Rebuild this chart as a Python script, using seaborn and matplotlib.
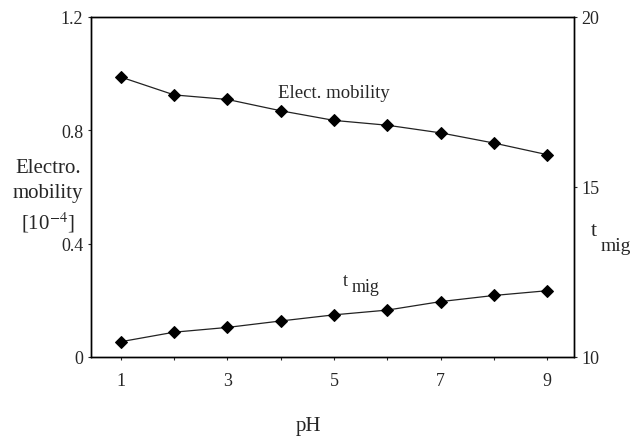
import matplotlib
matplotlib.use("Agg")
import matplotlib.pyplot as plt
import seaborn as sns
import pandas as pd

ph = [1, 2, 3, 4, 5, 6, 7, 8, 9]
elect_mobility = [0.988, 0.925, 0.909, 0.869, 0.835, 0.818, 0.791, 0.755, 0.714]
t_mig = [10.45, 10.73, 10.87, 11.06, 11.24, 11.38, 11.63, 11.81, 11.95]
x_tick_labels = ["1", "", "3", "", "5", "", "7", "", "9"]
left_ticks = [0, 0.4, 0.8, 1.2]
left_tick_labels = ["0", "0.4", "0.8", "1.2"]
right_ticks = [10, 15, 20]

sns.set_style("ticks")
plt.rcParams["font.family"] = ["Liberation Serif", "DejaVu Serif"]
plt.rcParams["mathtext.fontset"] = "stix"

df = pd.DataFrame({"pH": ph, "mob": elect_mobility, "tmig": t_mig})

fig = plt.figure(figsize=(6.32, 4.39), dpi=100)
ax = fig.add_axes([91 / 632, (439 - 358) / 439, (574 - 91) / 632, (358 - 18) / 439])
ax2 = ax.twinx()

sns.lineplot(data=df, x="pH", y="mob", ax=ax, color="#222222", lw=0.9,
             marker="D", markersize=6, markeredgecolor="black", markerfacecolor="black")
sns.lineplot(data=df, x="pH", y="tmig", ax=ax2, color="#222222", lw=0.9,
             marker="D", markersize=6, markeredgecolor="black", markerfacecolor="black")

ax.set_xlim(0.44, 9.5)
ax.set_ylim(0, 1.2)
ax2.set_ylim(10, 20)
ax.set_xticks(ph)
ax.set_xticklabels(x_tick_labels)
ax.set_yticks(left_ticks)
ax.set_yticklabels(left_tick_labels)
ax2.set_yticks(right_ticks)

for a in (ax, ax2):
    a.tick_params(direction="out", length=2.5, width=0.8, labelsize=13, pad=3)
    for s in a.spines.values():
        s.set_linewidth(1.0)
        s.set_color("black")
    a.set_xlabel("")
    a.set_ylabel("")

ax.tick_params(axis="x", pad=8)

fig.text(48 / 632, 1 - 197 / 439, "Electro.\nmobility\n[10$^{-4}$]", ha="center", va="center",
         fontsize=15, linespacing=1.4)
fig.text(594 / 632, 1 - 232 / 439, "t", ha="center", va="center", fontsize=16)
fig.text(616 / 632, 1 - 247 / 439, "mig", ha="center", va="center", fontsize=14)
fig.text(308 / 632, 1 - 427 / 439, "pH", ha="center", va="center", fontsize=15)

ax.text(5.0, 0.935, "Elect. mobility", ha="center", va="center", fontsize=13.5)
ax.text(5.22, 0.27, "t", ha="center", va="center", fontsize=13)
ax.text(5.6, 0.25, "mig", ha="center", va="center", fontsize=13)

fig.savefig("out.png", dpi=100)
